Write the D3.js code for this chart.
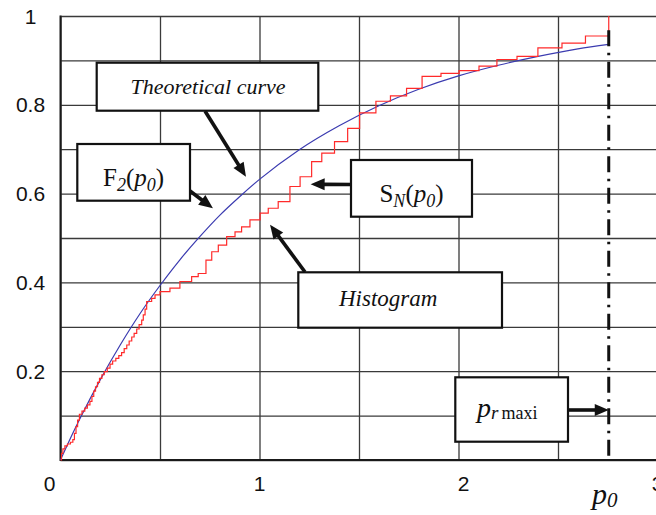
<!DOCTYPE html>
<html>
<head>
<meta charset="utf-8">
<script src="https://cdn.jsdelivr.net/npm/d3@7"></script>
<style>
  html, body { margin: 0; padding: 0; background: #fff; }
  svg { display: block; }
</style>
</head>
<body>
<script>
// Axis ticks and grid
const xTickValues = [0, 1, 2, 3];
const xTickLabels = ["0", "1", "2", "3"];
const yTickValues = [0.2, 0.4, 0.6, 0.8, 1];
const yTickLabels = ["0.2", "0.4", "0.6", "0.8", "1"];
const xGridValues = [0, 0.5, 1, 1.5, 2, 2.5, 3];
const yGridValues = [0, 0.1, 0.2, 0.3, 0.4, 0.5, 0.6, 0.7, 0.8, 0.9, 1];

// Theoretical distribution F2(p0)
const theoryP = [0, 0.05, 0.1, 0.2, 0.3, 0.4, 0.5, 0.6, 0.7, 0.8, 0.9, 1.0,
                 1.2, 1.4, 1.6, 1.8, 2.0, 2.2, 2.4, 2.6, 2.755];
const theoryF = [0, 0.049, 0.095, 0.181, 0.259, 0.330, 0.393, 0.451, 0.503, 0.551, 0.593, 0.632,
                 0.699, 0.753, 0.798, 0.835, 0.865, 0.889, 0.909, 0.926, 0.936];

// Empirical step function SN(p0): value jumps to histS[i] at histP[i]
const histP = [0, 0.005, 0.012, 0.022, 0.035, 0.050, 0.062, 0.070, 0.078, 0.086, 0.095,
               0.108, 0.122, 0.135, 0.148, 0.158, 0.167, 0.176, 0.186, 0.196, 0.208,
               0.220, 0.235, 0.249, 0.262, 0.278, 0.293, 0.307, 0.320, 0.333, 0.345,
               0.358, 0.370, 0.383, 0.395, 0.408, 0.416, 0.425, 0.433, 0.458, 0.475,
               0.500, 0.550, 0.600, 0.659, 0.692, 0.731, 0.760, 0.793, 0.835, 0.877,
               0.910, 0.952, 1.003, 1.044, 1.094, 1.153, 1.204, 1.262, 1.313, 1.377,
               1.443, 1.503, 1.585, 1.658, 1.739, 1.817, 1.912, 2.003, 2.103, 2.193,
               2.294, 2.399, 2.520, 2.638, 2.755];
const histS = [0, 0.015, 0.025, 0.032, 0.036, 0.040, 0.046, 0.060, 0.075, 0.090, 0.103,
               0.110, 0.117, 0.124, 0.132, 0.143, 0.155, 0.165, 0.175, 0.184, 0.192,
               0.199, 0.207, 0.216, 0.223, 0.229, 0.235, 0.242, 0.251, 0.259, 0.268,
               0.277, 0.285, 0.295, 0.305, 0.315, 0.327, 0.340, 0.357, 0.364, 0.372,
               0.379, 0.387, 0.402, 0.413, 0.420, 0.450, 0.469, 0.484, 0.503, 0.514,
               0.525, 0.541, 0.556, 0.567, 0.582, 0.616, 0.638, 0.672, 0.691, 0.717,
               0.747, 0.782, 0.808, 0.820, 0.837, 0.864, 0.871, 0.877, 0.887, 0.902,
               0.909, 0.928, 0.939, 0.955, 1.0];

const pRMaxi = 2.755;
const pRMaxiTop = 0.968;

const W = 656, H = 515;
const svg = d3.select("body").append("svg").attr("width", W).attr("height", H);

const x = d3.scaleLinear().domain([0, 3]).range([60.5, 657.5]);
const y = d3.scaleLinear().domain([0, 1]).range([460, 16]);

const gridColor = "#3a3a3a";

// grid
svg.append("g")
  .attr("transform", `translate(0,${y(0)})`)
  .call(d3.axisBottom(x).tickValues(xGridValues).tickSize(-(y(0) - y(1))).tickFormat(""))
  .call(g => g.select(".domain").remove())
  .call(g => g.selectAll("line").attr("stroke", gridColor).attr("stroke-width", 1.3));

svg.append("g")
  .attr("transform", `translate(${x(0)},0)`)
  .call(d3.axisLeft(y).tickValues(yGridValues).tickSize(-(W - x(0))).tickFormat(""))
  .call(g => g.select(".domain").remove())
  .call(g => g.selectAll("line").attr("stroke", gridColor).attr("stroke-width", 1.3));

// frame
svg.append("line").attr("x1", x(0)).attr("x2", x(0)).attr("y1", y(1) - 0.6).attr("y2", y(0) + 1)
  .attr("stroke", "#1a1a1a").attr("stroke-width", 2);
svg.append("line").attr("x1", x(0)).attr("x2", W).attr("y1", y(0)).attr("y2", y(0))
  .attr("stroke", "#1a1a1a").attr("stroke-width", 2);

// tick labels
const tickFont = "'Liberation Sans', Arial, sans-serif";
svg.append("g").selectAll("text").data(yTickValues).join("text")
  .attr("x", 30.5).attr("y", d => y(d)).attr("dy", "0.36em")
  .attr("text-anchor", "middle")
  .attr("font-family", tickFont).attr("font-size", 21).attr("fill", "#111")
  .text((d, i) => yTickLabels[i]);

svg.append("g").selectAll("text").data(xTickValues).join("text")
  .attr("x", d => d === 0 ? x(d) - 5 : x(d) + (d === 2 ? 5 : 0))
  .attr("y", 491)
  .attr("text-anchor", d => d === 0 ? "end" : "middle")
  .attr("font-family", tickFont).attr("font-size", 21).attr("fill", "#111")
  .text((d, i) => xTickLabels[i]);

// theoretical curve
const theory = theoryP.map((p, i) => [p, theoryF[i]]);
svg.append("path").datum(theory)
  .attr("fill", "none").attr("stroke", "#3b3bb0").attr("stroke-width", 1.2)
  .attr("d", d3.line().x(d => x(d[0])).y(d => y(d[1])).curve(d3.curveMonotoneX));

// empirical step function
const hist = histP.map((p, i) => [p, histS[i]]);
svg.append("path").datum(hist)
  .attr("fill", "none").attr("stroke", "#ff2a2a").attr("stroke-width", 1.2)
  .attr("d", d3.line().x(d => x(d[0])).y(d => y(d[1])).curve(d3.curveStepAfter));

// p_r maxi line (dash-dot)
svg.append("line")
  .attr("x1", x(pRMaxi)).attr("x2", x(pRMaxi))
  .attr("y1", y(pRMaxiTop)).attr("y2", y(0))
  .attr("stroke", "#111").attr("stroke-width", 3)
  .attr("stroke-dasharray", "16,6.5,2.5,6.5");

// annotation helpers
const serif = "'Liberation Serif', 'Times New Roman', serif";

function arrow(x1, y1, x2, y2) {
  const L = Math.hypot(x2 - x1, y2 - y1);
  const ux = (x2 - x1) / L, uy = (y2 - y1) / L;
  const head = 14, half = 6;
  const bx = x2 - ux * head, by = y2 - uy * head;
  svg.append("line").attr("x1", x1).attr("y1", y1).attr("x2", bx + ux).attr("y2", by + uy)
    .attr("stroke", "#111").attr("stroke-width", 3.6);
  svg.append("path")
    .attr("d", `M${x2},${y2}L${bx - uy * half},${by + ux * half}L${bx + uy * half},${by - ux * half}Z`)
    .attr("fill", "#111");
}

function box(x0, y0, x1, y1) {
  svg.append("rect").attr("x", x0).attr("y", y0).attr("width", x1 - x0).attr("height", y1 - y0)
    .attr("fill", "#fff").attr("stroke", "#111").attr("stroke-width", 2.2);
}

// Theoretical curve
arrow(205, 111, x(0.932), y(0.638));
box(96.7, 62.7, 318.3, 110.7);
svg.append("text").attr("x", 208).attr("y", 94).attr("text-anchor", "middle")
  .attr("font-family", serif).attr("font-style", "italic").attr("font-size", 22)
  .attr("fill", "#111").text("Theoretical curve");

// F2(p0)
arrow(190, 191, x(0.766), y(0.567));
box(77.3, 144, 190, 200.7);
{
  const t = svg.append("text").attr("x", 133.5).attr("y", 186).attr("text-anchor", "middle")
    .attr("font-family", serif).attr("font-size", 25).attr("fill", "#111");
  t.append("tspan").text("F");
  t.append("tspan").attr("font-style", "italic").attr("font-size", 18).attr("dy", 5).text("2");
  t.append("tspan").attr("dy", -5).text("(");
  t.append("tspan").attr("font-style", "italic").text("p");
  t.append("tspan").attr("font-style", "italic").attr("font-size", 18).attr("dy", 5).text("0");
  t.append("tspan").attr("dy", -5).text(")");
}

// SN(p0)
arrow(352, 184.5, x(1.257), y(0.621));
box(351, 160, 472, 216.7);
{
  const t = svg.append("text").attr("x", 411.5).attr("y", 202).attr("text-anchor", "middle")
    .attr("font-family", serif).attr("font-size", 25).attr("fill", "#111");
  t.append("tspan").text("S");
  t.append("tspan").attr("font-style", "italic").attr("font-size", 18).attr("dy", 5).text("N");
  t.append("tspan").attr("dy", -5).text("(");
  t.append("tspan").attr("font-style", "italic").text("p");
  t.append("tspan").attr("font-style", "italic").attr("font-size", 18).attr("dy", 5).text("0");
  t.append("tspan").attr("dy", -5).text(")");
}

// Histogram
arrow(305, 272, x(1.053), y(0.530));
box(298.3, 272.3, 502, 327.7);
svg.append("text").attr("x", 339).attr("y", 306)
  .attr("font-family", serif).attr("font-style", "italic").attr("font-size", 23)
  .attr("fill", "#111").text("Histogram");

// p_r maxi
arrow(568, 410, x(pRMaxi), 410);
box(455.3, 377.3, 568, 441.7);
{
  const t = svg.append("text").attr("x", 477).attr("y", 417)
    .attr("font-family", serif).attr("font-size", 28).attr("fill", "#111");
  t.append("tspan").attr("font-style", "italic").text("p");
  t.append("tspan").attr("font-style", "italic").attr("font-size", 19).attr("dy", 2).text("r");
  t.append("tspan").attr("font-size", 18).attr("dx", 3).text("maxi");
}

// axis title p0
{
  const t = svg.append("text").attr("x", 592).attr("y", 504)
    .attr("font-family", serif).attr("font-size", 30).attr("fill", "#111");
  t.append("tspan").attr("font-style", "italic").text("p");
  t.append("tspan").attr("font-style", "italic").attr("font-size", 21).attr("dy", 3).text("0");
}
</script>
</body>
</html>
